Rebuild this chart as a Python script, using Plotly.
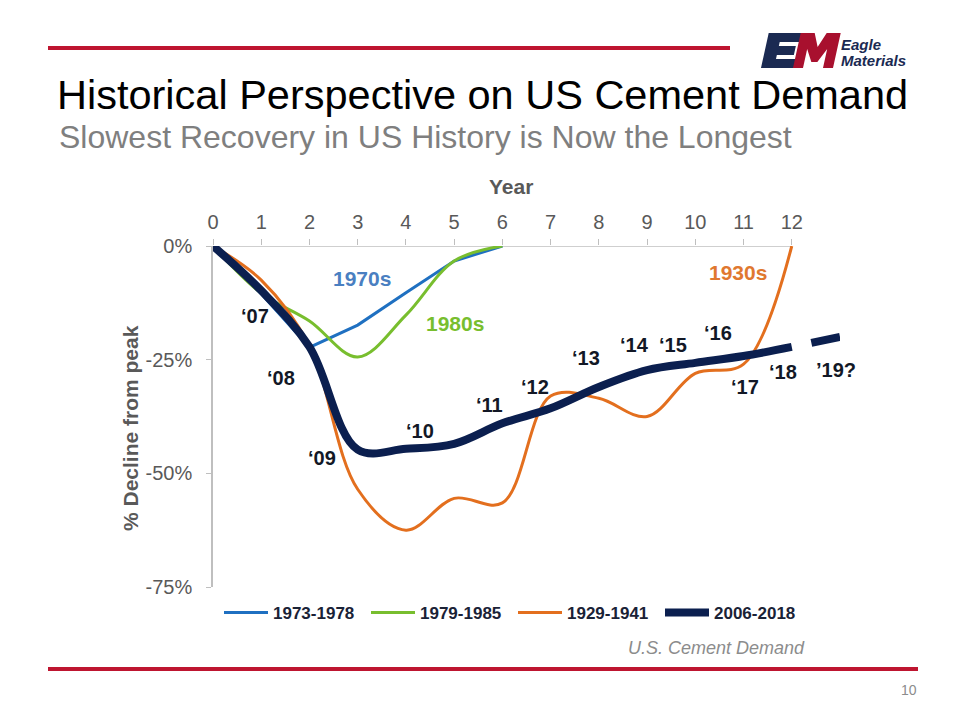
import plotly.graph_objects as go

# ---------------- data ----------------
years_70s = [0, 1, 2, 3, 4, 5, 6]
decl_1973_1978 = [0, -10.5, -22.3, -17.4, -10.3, -3.3, 0]

years_80s = [0, 1, 2, 3, 4, 5, 6]
decl_1979_1985 = [0, -10.4, -16.5, -24.4, -15.2, -3.3, 0]

years_30s = [0, 1, 2, 3, 4, 5, 6, 7, 8, 9, 10, 11, 12]
decl_1929_1941 = [0, -7.5, -22.0, -53.5, -62.5, -55.5, -56.5, -33.0, -33.5, -37.5, -28.0, -26.0, 0]

years_now = [0, 1, 2, 3, 4, 5, 6, 7, 8, 9, 10, 11, 12]
decl_2006_2018 = [0, -9.8, -22.2, -44.8, -44.6, -43.5, -39.0, -35.7, -31.0, -27.3, -25.7, -24.2, -22.2]

proj_years = [12, 13]
proj_decl = [-22.2, -20.0]

series_names = ["1973-1978", "1979-1985", "1929-1941", "2006-2018"]
x_ticks = list(range(0, 13))
y_ticks = [0, -25, -50, -75]
y_tick_text = ["0%", "-25%", "-50%", "-75%"]

year_labels = ["\u201807", "\u201808", "\u201809", "\u201810", "\u201811", "\u201812", "\u201813",
               "\u201814", "\u201815", "\u201816", "\u201817", "\u201818", "\u201919?"]
year_label_x = [0.87, 1.40, 2.26, 4.29, 5.74, 6.67, 7.73, 8.73, 9.54, 10.48, 11.03, 11.82, 12.92]
year_label_y = [-15.4, -29.0, -46.6, -40.7, -35.0, -31.0, -24.7, -21.8, -21.8, -19.2, -31.0, -27.7, -27.3]

era_labels = ["1970s", "1980s", "1930s"]
era_label_x = [3.09, 5.02, 10.89]
era_label_y = [-7.1, -17.0, -5.8]

# ---------------- style ----------------
FONT = "Liberation Sans, Arial, sans-serif"
C_BLUE = "#1F70C1"
C_GREEN = "#78BE2E"
C_ORANGE = "#E36F1E"
C_NAVY = "#0B1F4F"
C_RED = "#BE1530"
C_LOGO_NAVY = "#1B2A52"
C_LOGO_RED = "#A8102E"
era_colors = ["#4A7FC1", "#78BE2E", "#E0782F"]

OFF = 8  # page body margin
W, H = 952, 712
L, R, T, B = 205, 120, 238, 133
PW, PH = W - L - R, H - T - B


def px(x):
    """page pixel x -> paper x"""
    return (x - OFF - L) / PW


def py(y):
    """page pixel y -> paper y"""
    return (H - B - (y - OFF)) / PH


fig = go.Figure()
fig.add_trace(go.Scatter(x=years_70s, y=decl_1973_1978, name=series_names[0], mode="lines",
                         line=dict(color=C_BLUE, width=3)))
fig.add_trace(go.Scatter(x=years_80s, y=decl_1979_1985, name=series_names[1], mode="lines",
                         line=dict(color=C_GREEN, width=3, shape="spline", smoothing=1)))
fig.add_trace(go.Scatter(x=years_30s, y=decl_1929_1941, name=series_names[2], mode="lines",
                         line=dict(color=C_ORANGE, width=3, shape="spline", smoothing=1)))
fig.add_trace(go.Scatter(x=years_now, y=decl_2006_2018, name=series_names[3], mode="lines",
                         line=dict(color=C_NAVY, width=8, shape="spline", smoothing=1)))
fig.add_trace(go.Scatter(x=proj_years, y=proj_decl, mode="lines", showlegend=False,
                         line=dict(color=C_NAVY, width=8, dash="0px,20px,30px,200px")))

annotations = []
for t, x, y in zip(year_labels, year_label_x, year_label_y):
    annotations.append(dict(x=x, y=y, xref="x", yref="y", text="<b>" + t + "</b>", showarrow=False,
                            xanchor="center", yanchor="middle",
                            font=dict(family=FONT, size=20, color="#121826")))
for t, x, y, c in zip(era_labels, era_label_x, era_label_y, era_colors):
    annotations.append(dict(x=x, y=y, xref="x", yref="y", text="<b>" + t + "</b>", showarrow=False,
                            xanchor="center", yanchor="middle",
                            font=dict(family=FONT, size=21, color=c)))


def page_text(text, x, y, size, color, xanchor="center", angle=0):
    annotations.append(dict(x=px(x), y=py(y), xref="paper", yref="paper", text=text,
                            xanchor=xanchor, yanchor="middle", showarrow=False, textangle=angle,
                            borderpad=0, font=dict(family=FONT, size=size, color=color)))


# axis titles
page_text("<b>Year</b>", 511, 187, 21, "#595959")
page_text("<b>% Decline from peak</b>", 130, 428, 21, "#595959", angle=-90)

# slide texts
page_text("Historical Perspective on US Cement Demand", 56, 95, 41.5, "#000000", xanchor="left")
page_text("Slowest Recovery in US History is Now the Longest", 58, 137, 32, "#7F7F7F", xanchor="left")
page_text("<i>U.S. Cement Demand</i>", 806, 648, 18, "#8C8C8C", xanchor="right")
page_text("10", 918, 690, 14, "#8C8C8C", xanchor="right")
# logo wordmark
page_text("<b><i>Eagle</i></b>", 840, 44, 15, C_LOGO_NAVY, xanchor="left")
page_text("<b><i>Materials</i></b>", 840, 60, 15, C_LOGO_NAVY, xanchor="left")


def logo_path(points, slant=0.22, base=68, dx=-4):
    """polygon given in upright page pixels -> slanted svg path in paper coords"""
    parts = []
    for i, (x, y) in enumerate(points):
        xs = x + (base - y) * slant + dx
        parts.append(("M" if i == 0 else "L") + f"{px(xs):.5f},{py(y):.5f}")
    return " ".join(parts) + " Z"


E_pts = [(765, 33), (799, 33), (799, 42), (778, 42), (778, 46), (795, 46), (795, 55), (778, 55),
         (778, 59), (798, 59), (798, 68), (765, 68)]
M_pts = [(797, 68), (797, 33), (811, 33), (817, 47), (823, 33), (837, 33), (837, 68), (827, 68),
         (827, 49), (820, 62), (814, 62), (807, 49), (807, 68)]

shapes = [
    # top axis line from 0 to 12
    dict(type="line", xref="x", yref="y", x0=x_ticks[0], x1=x_ticks[-1], y0=0, y1=0,
         line=dict(color="#BFBFBF", width=1.5), layer="below"),
    # slide decorations
    dict(type="line", xref="paper", yref="paper", x0=px(48), x1=px(730), y0=py(48), y1=py(48),
         line=dict(color=C_RED, width=4)),
    dict(type="line", xref="paper", yref="paper", x0=px(48), x1=px(918), y0=py(669), y1=py(669),
         line=dict(color=C_RED, width=4)),
    # logo letters
    dict(type="path", xref="paper", yref="paper", path=logo_path(E_pts),
         fillcolor=C_LOGO_NAVY, line=dict(width=0)),
    dict(type="path", xref="paper", yref="paper", path=logo_path(M_pts),
         fillcolor=C_LOGO_RED, line=dict(width=0)),
]

fig.update_layout(
    width=W, height=H,
    margin=dict(l=L, r=R, t=T, b=B),
    paper_bgcolor="white", plot_bgcolor="white",
    font=dict(family=FONT, color="#595959"),
    showlegend=True,
    legend=dict(orientation="h", x=px(513), xanchor="center", y=py(613), yanchor="middle",
                font=dict(family=FONT, size=17, color="#1A2236", weight="bold"),
                itemwidth=44, entrywidth=88, entrywidthmode="pixels", bgcolor="rgba(0,0,0,0)"),
    xaxis=dict(range=[0, 13], side="top", tickvals=x_ticks, ticktext=[str(v) for v in x_ticks],
               showgrid=False, zeroline=False, showline=False, ticks="outside", ticklen=6,
               tickcolor="#BFBFBF", ticklabelstandoff=2,
               tickfont=dict(family=FONT, size=20, color="#595959"), fixedrange=True),
    yaxis=dict(range=[-75, 0], tickvals=y_ticks, ticktext=y_tick_text, showgrid=False,
               zeroline=False, showline=True, linecolor="#BFBFBF", linewidth=1.5,
               ticks="outside", ticklen=5, tickcolor="#BFBFBF", ticklabelstandoff=10,
               tickfont=dict(family=FONT, size=20, color="#595959"), fixedrange=True),
    annotations=annotations,
    shapes=shapes,
)

fig.write_html("out.html")
